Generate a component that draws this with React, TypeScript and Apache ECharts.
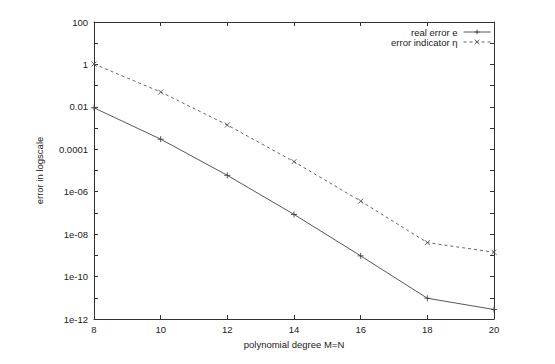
import React, { useEffect, useRef } from "react";
import * as echarts from "echarts";

const degrees = [8, 10, 12, 14, 16, 18, 20];
const realError = [9e-3, 3e-4, 5.9e-6, 8.5e-8, 9.5e-10, 9.5e-12, 2.8e-12];
const errorIndicator = [1.05, 5e-2, 1.4e-3, 2.6e-5, 3.6e-7, 4e-9, 1.4e-9];
const seriesNames = ["real error e", "error indicator η"];
const xTitle = "polynomial degree M=N";
const yTitle = "error in logscale";

const FONT = "Liberation Sans";

function fmtLog(v: number): string {
  const e = Math.round(Math.log10(v));
  if (e % 2 !== 0) return "";
  if (e >= -4) {
    if (e >= 0) return String(Math.pow(10, e));
    return "0." + "0".repeat(-e - 1) + "1";
  }
  const p = -e;
  return "1e-" + (p < 10 ? "0" + p : String(p));
}

export default function App() {
  const ref = useRef<HTMLDivElement>(null);
  useEffect(() => {
    document.body.style.margin = "0";
    const chart = echarts.init(ref.current!, null, { renderer: "svg" });
    const axisLine = { lineStyle: { color: "#333", width: 1 } };
    const tick = { inside: true, length: 4, lineStyle: { color: "#333", width: 1 } };
    const plus = "path://M0,5L10,5M5,0L5,10";
    const cross = "path://M0,0L10,10M10,0L0,10";
    chart.setOption({
      animation: false,
      backgroundColor: "#fff",
      textStyle: { fontFamily: FONT },
      grid: { left: 94, top: 22, right: 61, bottom: 45 },
      legend: {
        orient: "vertical",
        right: 64,
        top: 27,
        padding: 0,
        align: "right",
        itemWidth: 27,
        itemHeight: 6,
        itemGap: 0,
        lineStyle: { width: 0.9 },
        itemStyle: { borderWidth: 0.9 },
        textStyle: {
          fontFamily: FONT,
          fontSize: 9.5,
          lineHeight: 10,
          color: "#222",
          padding: [0, 1, 0, 0],
        },
        data: seriesNames,
      },
      xAxis: [
        {
          type: "value",
          min: 8,
          max: 20,
          interval: 2,
          name: xTitle,
          nameLocation: "middle",
          nameGap: 20,
          nameTextStyle: { fontFamily: FONT, fontSize: 9.5, color: "#222" },
          axisLine,
          axisTick: tick,
          splitLine: { show: false },
          axisLabel: { fontFamily: FONT, fontSize: 9.5, color: "#222", margin: 5 },
        },
        {
          type: "value",
          position: "top",
          min: 8,
          max: 20,
          interval: 2,
          axisLine,
          axisTick: tick,
          splitLine: { show: false },
          axisLabel: { show: false },
        },
      ],
      yAxis: [
        {
          type: "log",
          logBase: 10,
          min: 1e-12,
          max: 100,
          interval: 1,
          name: yTitle,
          nameLocation: "middle",
          nameRotate: 90,
          nameGap: 50,
          nameTextStyle: { fontFamily: FONT, fontSize: 9.5, color: "#222" },
          axisLine: { show: true, ...axisLine },
          axisTick: tick,
          splitLine: { show: false },
          axisLabel: {
            fontFamily: FONT,
            fontSize: 9.5,
            color: "#222",
            margin: 6,
            formatter: (v: number) => fmtLog(v),
          },
        },
        {
          type: "log",
          logBase: 10,
          position: "right",
          min: 1e-12,
          max: 100,
          interval: 1,
          axisLine: { show: true, ...axisLine },
          axisTick: tick,
          splitLine: { show: false },
          axisLabel: { show: false },
        },
      ],
      series: [
        {
          name: seriesNames[0],
          type: "line",
          data: degrees.map((d, i) => [d, realError[i]]),
          symbol: plus,
          symbolSize: 6,
          showAllSymbol: true,
          itemStyle: { color: "#444", borderColor: "#444", borderWidth: 0.9 },
          lineStyle: { color: "#444", width: 0.9, type: "solid" },
        },
        {
          name: seriesNames[1],
          type: "line",
          data: degrees.map((d, i) => [d, errorIndicator[i]]),
          symbol: cross,
          symbolSize: 5,
          showAllSymbol: true,
          itemStyle: { color: "#555", borderColor: "#555", borderWidth: 0.9 },
          lineStyle: { color: "#555", width: 0.9, type: [3, 3] },
        },
      ],
    });
    return () => chart.dispose();
  }, []);
  return <div ref={ref} style={{ width: 555, height: 364 }} />;
}
